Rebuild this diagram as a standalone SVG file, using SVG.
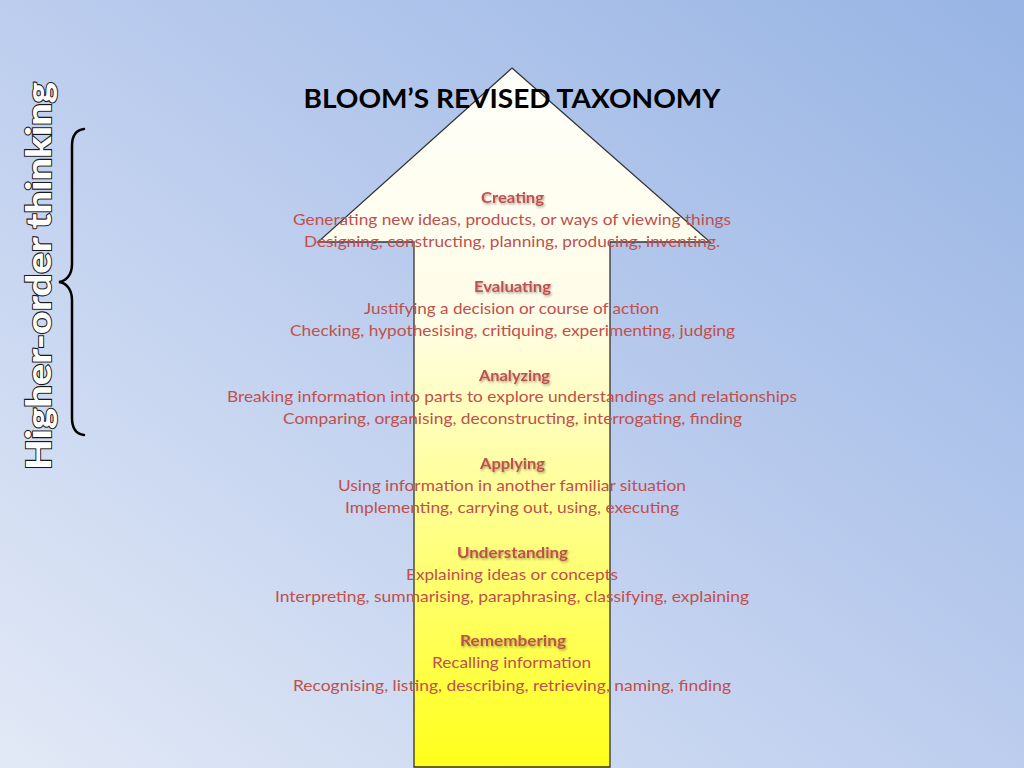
<svg xmlns="http://www.w3.org/2000/svg" width="1024" height="768" viewBox="0 0 1024 768">
<defs>
<linearGradient id="bg" x1="0" y1="1" x2="1" y2="0">
<stop offset="0" stop-color="#e2e9f6"/>
<stop offset="0.5" stop-color="#bccdee"/>
<stop offset="1" stop-color="#97b4e4"/>
</linearGradient>
<linearGradient id="arrowFill" gradientUnits="userSpaceOnUse" x1="0" y1="68" x2="0" y2="767">
<stop offset="0" stop-color="#fffffa"/>
<stop offset="0.35" stop-color="#fffde8"/>
<stop offset="0.6" stop-color="#ffff9a"/>
<stop offset="1" stop-color="#ffff1a"/>
</linearGradient>
<filter id="shadow" x="-10%" y="-30%" width="120%" height="160%">
<feDropShadow dx="1" dy="1.5" stdDeviation="1" flood-color="#000" flood-opacity="0.35"/>
</filter>
</defs>
<style>
.t{font-family:Lato,"Liberation Sans",sans-serif;font-size:16px;fill:#c0504d;text-anchor:middle}
.h{font-weight:bold;filter:url(#shadow)}
.title{font-family:Lato,"Liberation Sans",sans-serif;font-size:27px;font-weight:bold;fill:#000;text-anchor:middle}
.side{font-family:Lato,"Liberation Sans",sans-serif;font-size:35px;font-weight:900;fill:#fff;stroke:#1a1a1a;stroke-width:2;paint-order:stroke;text-anchor:middle}
</style>
<rect width="1024" height="768" fill="url(#bg)"/>
<g id="arrow">
<path d="M512,68 L710,242 L610,242 L610,767 L414,767 L414,242 L318,242 Z" fill="url(#arrowFill)" stroke="#333" stroke-width="1.3" stroke-linejoin="miter"/>
</g>
<g id="title">
<text class="title" x="512" y="108" textLength="417" lengthAdjust="spacingAndGlyphs">BLOOM’S REVISED TAXONOMY</text>
</g>
<g id="side-label">
<text class="side" transform="translate(51,276) rotate(-90)" textLength="388" lengthAdjust="spacingAndGlyphs">Higher-order thinking</text>
<path d="M84,129 C76,130 72,136 72,146 L72,264 C72,275 66,281 59,282 C66,283 72,289 72,300 L72,418 C72,428 76,434 84,435" fill="none" stroke="#000" stroke-width="2.5" stroke-linecap="round"/>
</g>
<g id="creating">
<text class="t h" x="512.5" y="203" textLength="63" lengthAdjust="spacingAndGlyphs">Creating</text>
<text class="t" x="512" y="225" textLength="438" lengthAdjust="spacingAndGlyphs">Generating new ideas, products, or ways of viewing things</text>
<text class="t" x="512" y="247" textLength="416" lengthAdjust="spacingAndGlyphs">Designing, constructing, planning, producing, inventing.</text>
</g>
<g id="evaluating">
<text class="t h" x="512.5" y="292" textLength="77" lengthAdjust="spacingAndGlyphs">Evaluating</text>
<text class="t" x="511.5" y="314" textLength="295" lengthAdjust="spacingAndGlyphs">Justifying a decision or course of action</text>
<text class="t" x="512.5" y="336" textLength="445" lengthAdjust="spacingAndGlyphs">Checking, hypothesising, critiquing, experimenting, judging</text>
</g>
<g id="analyzing">
<text class="t h" x="514.5" y="381" textLength="71" lengthAdjust="spacingAndGlyphs">Analyzing</text>
<text class="t" x="512" y="402" textLength="570" lengthAdjust="spacingAndGlyphs">Breaking information into parts to explore understandings and relationships</text>
<text class="t" x="512.5" y="424" textLength="459" lengthAdjust="spacingAndGlyphs">Comparing, organising, deconstructing, interrogating, finding</text>
</g>
<g id="applying">
<text class="t h" x="512.5" y="469" textLength="65" lengthAdjust="spacingAndGlyphs">Applying</text>
<text class="t" x="512" y="491" textLength="348" lengthAdjust="spacingAndGlyphs">Using information in another familiar situation</text>
<text class="t" x="512" y="513" textLength="334" lengthAdjust="spacingAndGlyphs">Implementing, carrying out, using, executing</text>
</g>
<g id="understanding">
<text class="t h" x="512.5" y="558" textLength="111" lengthAdjust="spacingAndGlyphs">Understanding</text>
<text class="t" x="512" y="580" textLength="212" lengthAdjust="spacingAndGlyphs">Explaining ideas or concepts</text>
<text class="t" x="512" y="602" textLength="474" lengthAdjust="spacingAndGlyphs">Interpreting, summarising, paraphrasing, classifying, explaining</text>
</g>
<g id="remembering">
<text class="t h" x="513" y="646" textLength="106" lengthAdjust="spacingAndGlyphs">Remembering</text>
<text class="t" x="511.5" y="668" textLength="159" lengthAdjust="spacingAndGlyphs">Recalling information</text>
<text class="t" x="512" y="691" textLength="438" lengthAdjust="spacingAndGlyphs">Recognising, listing, describing, retrieving, naming, finding</text>
</g>
</svg>
